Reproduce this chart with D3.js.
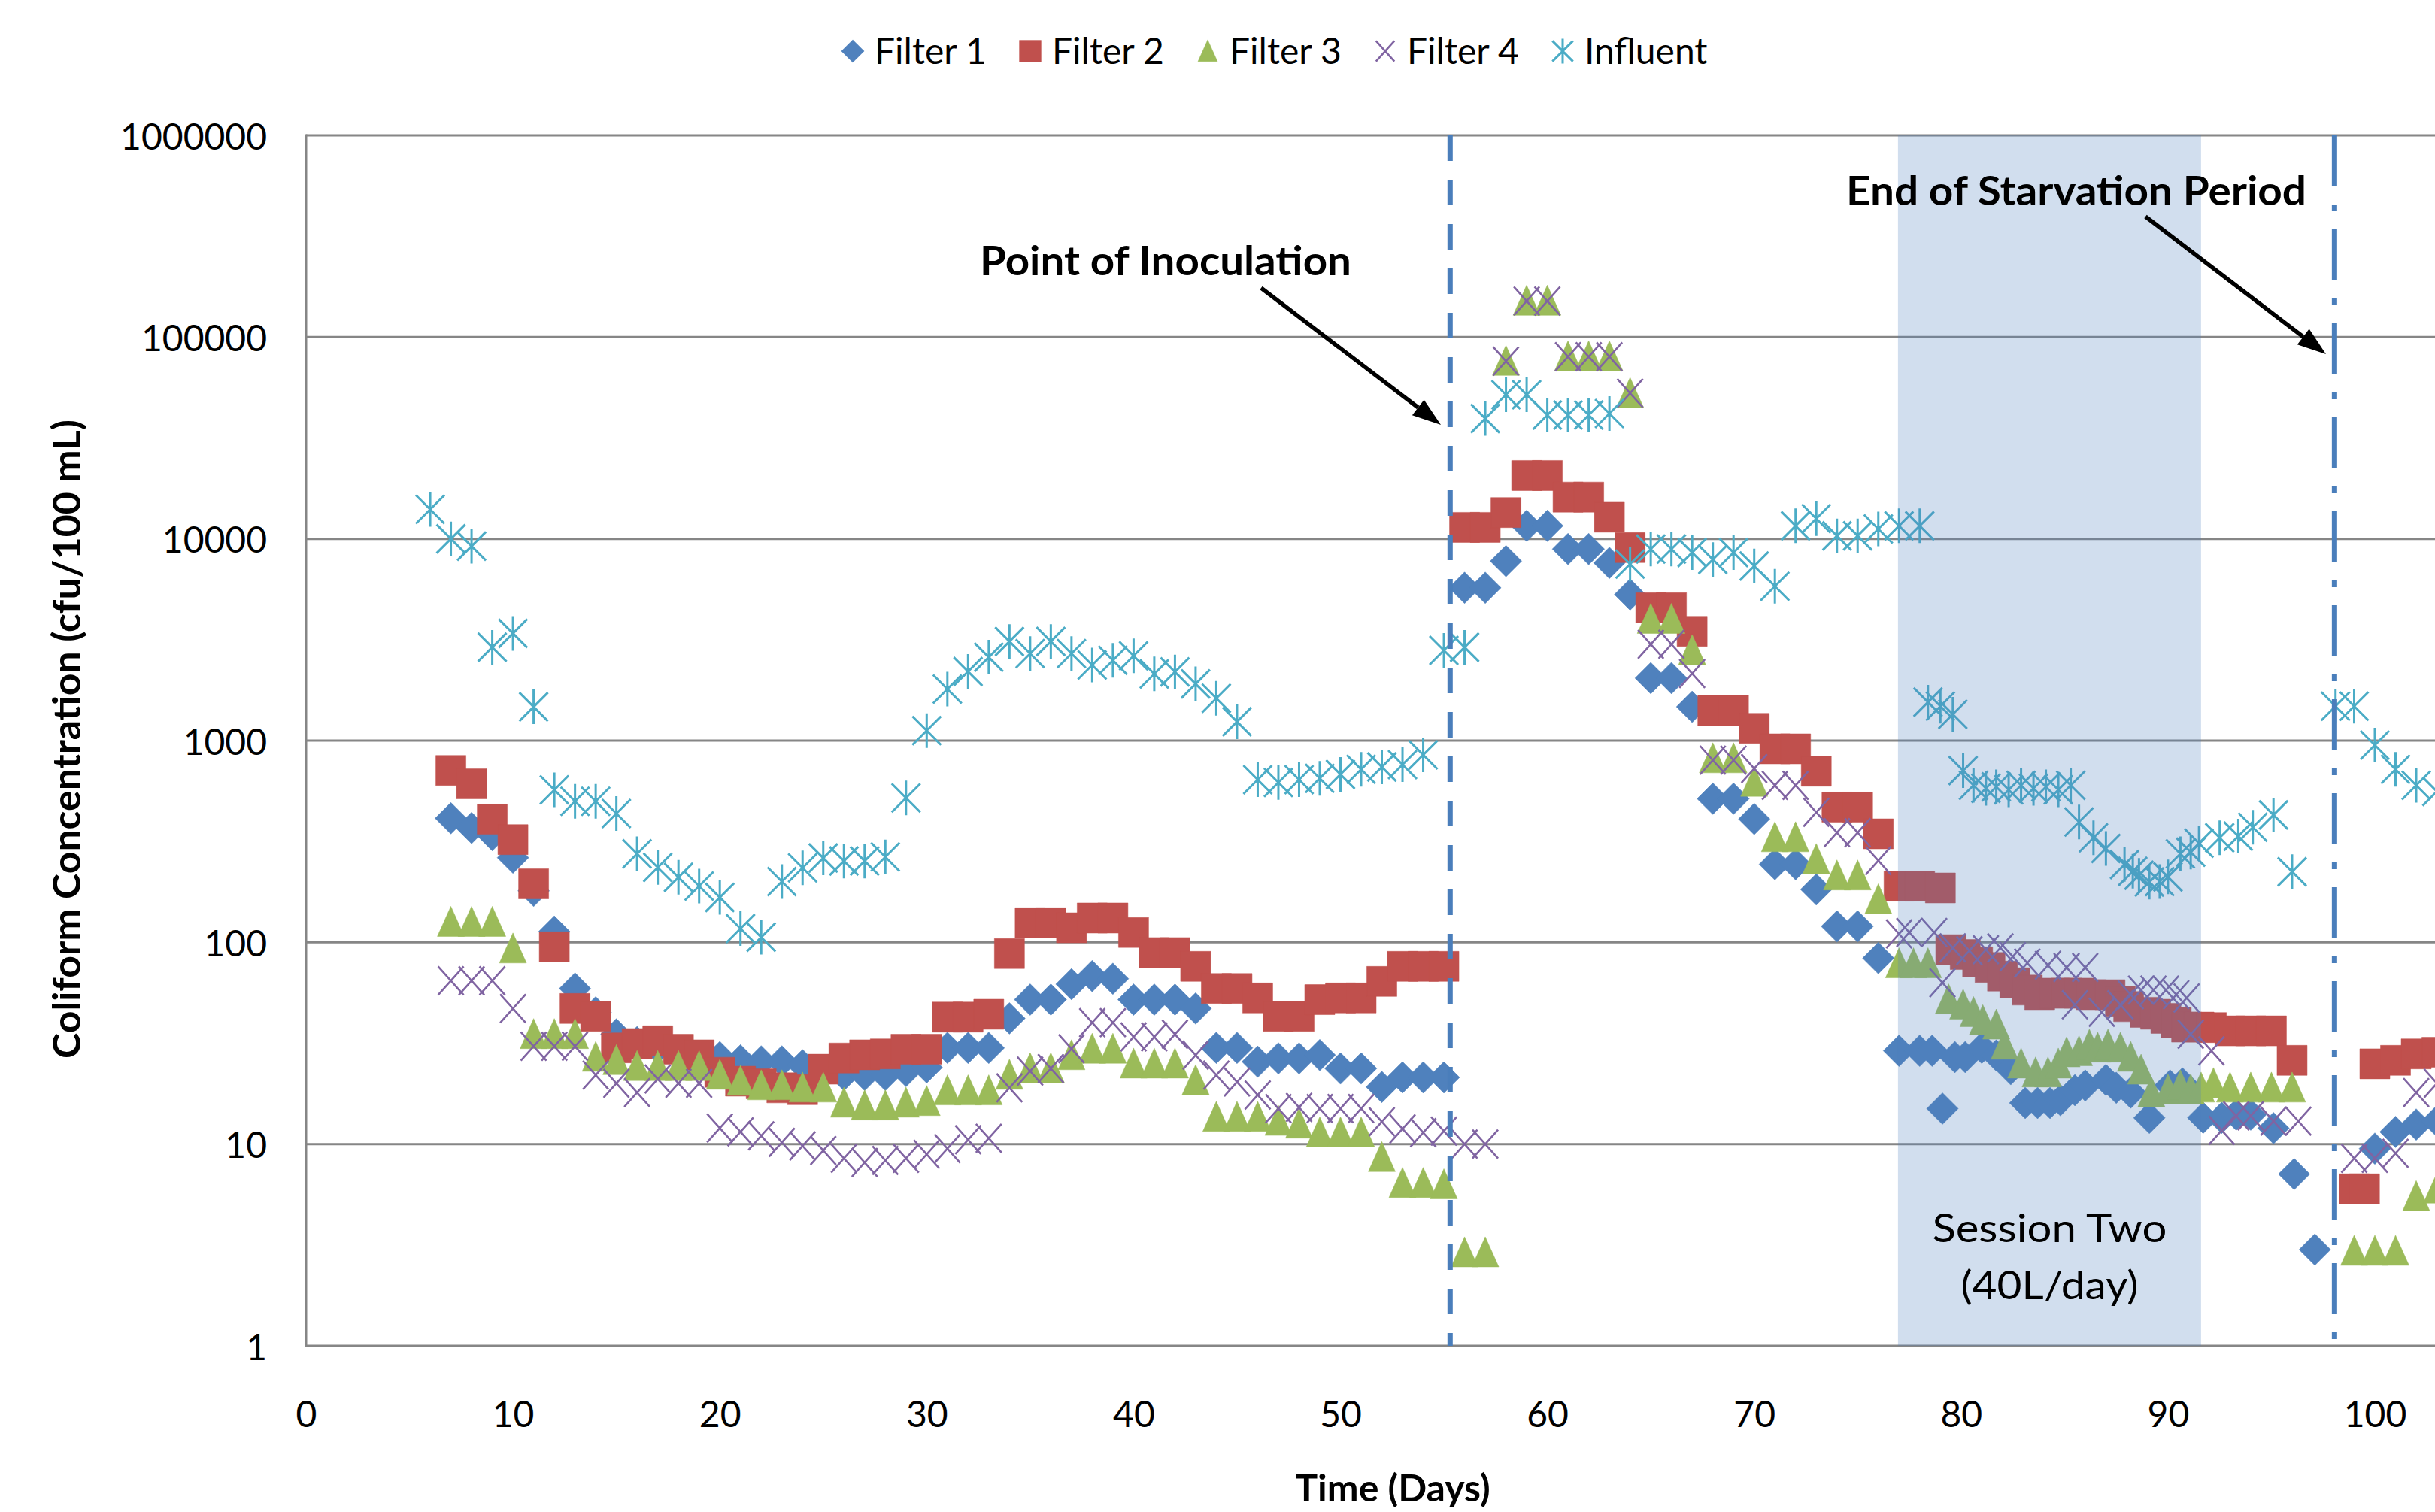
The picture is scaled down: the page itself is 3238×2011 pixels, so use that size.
<!DOCTYPE html>
<html>
<head>
<meta charset="utf-8">
<script src="https://cdn.jsdelivr.net/npm/d3@7"></script>
<style>
  body { margin: 0; background: #fff; overflow: hidden; }
  svg { display: block; font-family: Lato, "Open Sans", sans-serif; }
</style>
</head>
<body>
<div class="chart"></div>
<script>
// series names + excel 2007 default colours
const seriesNames = ['Filter 1', 'Filter 2', 'Filter 3', 'Filter 4', 'Influent'];
const seriesColors = ['#4F81BD', '#C0504D', '#9BBB59', '#8064A2', '#4BACC6'];
const seriesShapes = ['diamond', 'square', 'triangle', 'cross', 'star'];

// [day, cfu/100 mL]
const filter1 = [[7,412],[8,369],[9,340],[10,263],[11,180],[12,113],[13,59],[14,45],[15,35],[16,32],[17,30],[18,28],[19,27],[20,27],[21,26],[22,25.7],[23,25.7],[24,24.6],[25,23],[26,22],[27,22],[28,22],[29,23],[30,24],[31,30],[32,30],[33,30],[34,42],[35,52],[36,52],[37,62],[38,68],[39,66],[40,52],[41,52],[42,52],[43,47],[44,30],[45,30],[46,25.6],[47,26.6],[48,26.6],[49,27.6],[50,23.7],[51,23.7],[52,19.2],[53,21.4],[54,21.4],[55,21.4],[56,5720],[57,5720],[58,7760],[59,11600],[60,11600],[61,8900],[62,8900],[63,7600],[64,5300],[65,2040],[66,2040],[67,1470],[68,515],[69,515],[70,409],[71,244],[72,244],[73,183],[74,120],[75,120],[76,83.5],[77,29],[78,29],[78.6,29],[79.1,15],[79.7,27],[80.2,27],[81,30],[81.7,27.5],[82.4,23.5],[83.1,16],[83.7,16],[84.3,16],[84.8,16.5],[85.5,18.5],[86,19.5],[87,20.8],[87.5,19],[88.2,18],[89.1,13.5],[90.1,19.5],[90.7,20],[91.7,13.5],[92.6,13.5],[93.3,14],[94,14],[95.1,12],[96.1,7.1],[97.1,3.0],[100,9.5],[101,11.5],[102,12.5],[103,13]];

const filter2 = [[7,711],[8,611],[9,408],[10,323],[11,195],[12,95],[13,47],[14,43],[15,30],[16,31.5],[17,32.5],[18,29.5],[19,27.7],[20,22.7],[21,20.5],[22,19.9],[23,19],[24,18.6],[25,23.5],[26,26.7],[27,27.7],[28,28],[29,29.5],[30,29.5],[31,42.6],[32,42.6],[33,44],[34,88],[35,125],[36,125],[37,118],[38,132],[39,132],[40,112],[41,89],[42,89],[43,76],[44,59],[45,59],[46,53],[47,43],[48,43],[49,52],[50,53],[51,53],[52,64],[53,76],[54,76],[55,76],[56,11400],[57,11400],[58,13500],[59,20600],[60,20600],[61,16100],[62,16100],[63,12800],[64,9050],[65,4560],[66,4560],[67,3480],[68,1410],[69,1410],[70,1150],[71,910],[72,910],[73,705],[74,468],[75,468],[76,345],[77,190],[78,190],[79,186],[79.5,92],[80.2,87],[80.8,80],[81.4,75],[82,68],[82.6,63],[83.2,58],[83.8,55],[84.5,56],[85.1,56],[85.7,56],[86.3,55],[87.2,55],[87.7,51],[88.1,48],[88.9,45],[89.4,44],[89.9,42],[90.4,40],[90.9,38],[91.5,38],[92.1,37.8],[93,36.4],[94,36.4],[95,36.4],[96,26],[99,6],[99.5,6],[100,25],[101,26],[102,28],[103,28.5]];

const filter3 = [[7,126],[8,126],[9,126],[10,93],[11,35],[12,35],[13,35],[14,27],[15,26],[16,24.3],[17,24.3],[18,24.3],[19,24.3],[20,22],[21,20.5],[22,19.5],[23,19.5],[24,19],[25,19],[26,16],[27,15.5],[28,15.5],[29,16],[30,16.3],[31,18.4],[32,18.4],[33,18.4],[34,22],[35,23.7],[36,23.7],[37,27.5],[38,29.6],[39,29.6],[40,25],[41,25],[42,25],[43,20.7],[44,13.6],[45,13.6],[46,13.6],[47,13],[48,12.6],[49,11.4],[50,11.4],[51,11.4],[52,8.6],[53,6.4],[54,6.4],[55,6.3],[56,2.9],[57,2.9],[58,76000],[59,151000],[60,151000],[61,80000],[62,80000],[63,80000],[64,52700],[65,4000],[66,4000],[67,2800],[68,815],[69,815],[70,623],[71,331],[72,331],[73,258],[74,214],[75,214],[76,163],[77,78.5],[77.7,78.5],[78.4,78.5],[79.4,52],[80.1,49],[80.6,45],[81.05,41],[81.7,39],[82.1,31],[82.9,25],[83.6,22.6],[84.2,22.6],[84.7,25],[85.1,28.4],[85.7,28.8],[86.2,31],[86.6,30],[87.1,31],[87.7,30],[88.2,27],[88.7,23.3],[89.2,18],[90,18.6],[90.6,19.5],[91.1,18.6],[91.6,19],[92.2,20],[93,19],[94,19],[95,19],[96,19],[99,2.95],[100,2.95],[101,2.95],[102,5.5],[103,6]];

const filter4 = [[7,64.5],[8,64.5],[9,64.5],[10,47],[11,30.5],[12,30.5],[13,30.5],[14,22],[15,20],[16,18],[17,21],[18,20],[19,20],[20,12],[21,11.5],[22,11],[23,10.2],[24,9.8],[25,9.3],[26,8.5],[27,8.1],[28,8.3],[29,8.5],[30,8.9],[31,9.5],[32,10.5],[33,10.7],[34,19],[35,23],[36,23.7],[37,29.7],[38,40],[39,40],[40,34],[41,34],[42,35],[43,27.6],[44,22],[45,20.3],[46,17.5],[47,15],[48,15.2],[49,15],[50,15],[51,15],[52,12.9],[53,11.9],[54,11.4],[55,11.6],[56,10],[57,10],[58,76000],[59,151000],[60,151000],[61,80000],[62,80000],[63,80000],[64,52700],[65,3000],[66,3000],[67,2150],[68,800],[69,800],[70,727],[71,600],[72,600],[73,441],[74,350],[75,350],[76,254],[77,110],[77.5,112],[78.7,112],[79.1,63],[79.6,94],[80.4,91],[81.2,92],[81.9,94],[82.5,85],[83.2,79],[84.2,77],[85.1,75],[85.5,49],[86,75],[86.8,45],[87.7,49],[88.2,55],[88.7,58],[89.3,58],[89.9,58],[90.4,55],[90.9,53],[91.1,35],[92.1,29],[92.6,11.7],[93.3,13.8],[94,13.8],[95.1,13],[96.3,13],[99,8.5],[100,8.5],[101,9],[102,18],[103,20]];

const influent = [[6,14000],[7,10000],[8,9200],[9,2900],[10,3400],[11,1470],[12,570],[13,500],[14,500],[15,435],[16,275],[17,235],[18,210],[19,190],[20,167],[21,117],[22,106],[23,200],[24,234],[25,262],[26,253],[27,253],[28,265],[29,520],[30,1120],[31,1800],[32,2200],[33,2590],[34,3100],[35,2700],[36,3100],[37,2700],[38,2370],[39,2500],[40,2630],[41,2140],[42,2190],[43,1910],[44,1620],[45,1240],[46,640],[47,620],[48,640],[49,650],[50,680],[51,720],[52,740],[53,760],[54,850],[55,2800],[56,2900],[57,39500],[58,51800],[59,51800],[60,41100],[61,41100],[62,41100],[63,41800],[64,7500],[65,8900],[66,8900],[67,8550],[68,7900],[69,8550],[70,7330],[71,5820],[72,11600],[73,12600],[74,10350],[75,10350],[76,11200],[77,11600],[78,11600],[78.4,1550],[79,1480],[79.6,1350],[80.1,710],[80.6,600],[81.2,580],[81.7,590],[82.3,570],[82.9,600],[83.5,580],[84.1,590],[84.7,570],[85.3,600],[85.7,395],[86.4,330],[87,292],[87.9,243],[88.3,225],[88.6,215],[89.1,199],[89.6,200],[90,211],[90.6,275],[91.1,280],[91.5,310],[92.5,330],[93.4,336],[94.1,372],[95.1,428],[96,224],[98.1,1480],[99,1480],[100,950],[101,720],[102,600],[103,560]];

const xTicks = [0, 10, 20, 30, 40, 50, 60, 70, 80, 90, 100];
const yTicks = [1, 10, 100, 1000, 10000, 100000, 1000000];

const inoculationDay = 55.3;
const starvationEndDay = 98.05;
const sessionTwoDays = [76.95, 91.6];

const allSeries = [filter1, filter2, filter3, filter4, influent];

// layout
const width = 3238, height = 2011;
const margin = { top: 180, left: 407 };
const plotH = 1610;
const dayPx = 27.51;

const svg = d3.select('.chart').append('svg')
    .attr('width', width)
    .attr('height', height);

const x = d3.scaleLinear().domain([0, 110]).range([margin.left, margin.left + 110 * dayPx]);
const y = d3.scaleLog().domain([1, 1000000]).range([margin.top + plotH, margin.top]);

// gridlines
svg.append('g').selectAll('line')
    .data(yTicks)
    .enter().append('line')
    .attr('x1', x(0)).attr('x2', width + 10)
    .attr('y1', d => y(d)).attr('y2', d => y(d))
    .attr('stroke', '#868686')
    .attr('stroke-width', 3);

// left border
svg.append('line')
    .attr('x1', x(0)).attr('x2', x(0))
    .attr('y1', y(1000000) - 1.5).attr('y2', y(1) + 1.5)
    .attr('stroke', '#868686')
    .attr('stroke-width', 3);

// axes (labels only)
const yAxis = svg.append('g')
    .attr('transform', `translate(${x(0)},0)`)
    .call(d3.axisLeft(y).tickValues(yTicks).tickFormat(d3.format('d')).tickSize(0).tickPadding(52));
yAxis.select('.domain').remove();
yAxis.selectAll('text').attr('font-size', 48).attr('font-family', 'Lato').attr('fill', '#000').attr('dy', '0.38em');

const xAxis = svg.append('g')
    .attr('transform', `translate(0,${y(1)})`)
    .call(d3.axisBottom(x).tickValues(xTicks).tickSize(0).tickPadding(74));
xAxis.select('.domain').remove();
xAxis.selectAll('text').attr('font-size', 48).attr('font-family', 'Lato').attr('fill', '#000');

// marker shapes
function shapePath(shape, s) {
  if (shape === 'diamond') return `M0,${-21*s}L${21*s},0L0,${21*s}L${-21*s},0Z`;
  if (shape === 'square') return `M${-20*s},${-20*s}h${40*s}v${40*s}h${-40*s}Z`;
  if (shape === 'triangle') return `M0,${-21*s}L${18*s},${19*s}L${-18*s},${19*s}Z`;
  if (shape === 'cross') return `M${-17*s},${-19*s}L${17*s},${19*s}M${17*s},${-19*s}L${-17*s},${19*s}`;
  return `M${-19*s},${-19*s}L${19*s},${19*s}M${19*s},${-19*s}L${-19*s},${19*s}M0,${-23*s}L0,${23*s}`;
}

function drawMarker(sel, i, s) {
  const shape = seriesShapes[i];
  const filled = shape === 'diamond' || shape === 'square' || shape === 'triangle';
  sel.attr('d', shapePath(shape, s))
    .attr('fill', filled ? seriesColors[i] : 'none')
    .attr('stroke', seriesColors[i])
    .attr('stroke-width', filled ? 0.5 : (shape === 'star' ? 3 : 2.6));
}

// data points
allSeries.forEach((data, i) => {
  svg.append('g').selectAll('path')
      .data(data)
      .enter().append('path')
      .attr('transform', d => `translate(${x(d[0])},${y(d[1])})`)
      .call(drawMarker, i, 1);
});

// session two band (translucent, sits over the markers)
svg.append('rect')
    .attr('x', x(sessionTwoDays[0]))
    .attr('width', x(sessionTwoDays[1]) - x(sessionTwoDays[0]))
    .attr('y', y(1000000))
    .attr('height', y(1) - y(1000000))
    .attr('fill', '#4F81BD')
    .attr('opacity', 0.26);

// vertical event lines
svg.append('line')
    .attr('x1', x(inoculationDay)).attr('x2', x(inoculationDay))
    .attr('y1', y(1000000)).attr('y2', y(1))
    .attr('stroke', '#4A7EBB').attr('stroke-width', 7)
    .attr('stroke-dasharray', '34,25');
svg.append('line')
    .attr('x1', x(starvationEndDay)).attr('x2', x(starvationEndDay))
    .attr('y1', y(1000000)).attr('y2', y(1))
    .attr('stroke', '#4A7EBB').attr('stroke-width', 7)
    .attr('stroke-dasharray', '68,24,9,24');

// annotations
function arrow(x1, y1, x2, y2) {
  const ang = Math.atan2(y2 - y1, x2 - x1);
  const len = 38, half = 13;
  const bx = x2 - len * Math.cos(ang), by = y2 - len * Math.sin(ang);
  svg.append('line')
      .attr('x1', x1).attr('y1', y1).attr('x2', bx).attr('y2', by)
      .attr('stroke', '#000').attr('stroke-width', 5.5);
  svg.append('path')
      .attr('d', `M${x2},${y2}L${bx + half * Math.sin(ang)},${by - half * Math.cos(ang)}L${bx - half * Math.sin(ang)},${by + half * Math.cos(ang)}Z`)
      .attr('fill', '#000');
}

// the original text is a little wide, so stretch to the measured widths
function label(tx, ty, str, size, weight, len) {
  return svg.append('text')
      .attr('x', tx).attr('y', ty)
      .attr('text-anchor', 'middle')
      .attr('font-size', size).attr('font-weight', weight)
      .attr('textLength', len).attr('lengthAdjust', 'spacingAndGlyphs')
      .text(str);
}

label(1550, 366, 'Point of Inoculation', 53, 'bold', 494);
arrow(1677, 383, 1916, 565);

label(2761, 273, 'End of Starvation Period', 53, 'bold', 612);
arrow(2853, 288, 3093, 471);

const midSession = x((sessionTwoDays[0] + sessionTwoDays[1]) / 2);
label(midSession, 1652, 'Session Two', 53, 'normal', 312);
label(midSession, 1728, '(40L/day)', 53, 'normal', 236);

// axis titles
svg.append('text')
    .attr('transform', 'translate(107,983) rotate(-90)')
    .attr('text-anchor', 'middle')
    .attr('font-size', 51).attr('font-weight', 'bold')
    .attr('textLength', 850).attr('lengthAdjust', 'spacingAndGlyphs')
    .text('Coliform Concentration  (cfu/100 mL)');
svg.append('text')
    .attr('x', 1852).attr('y', 1997)
    .attr('text-anchor', 'middle')
    .attr('font-size', 50).attr('font-weight', 'bold')
    .text('Time (Days)');

// legend
const legend = svg.append('g').attr('transform', 'translate(1134,68)');
seriesNames.forEach((name, i) => {
  const item = legend.append('g').attr('transform', `translate(${i * 236},0)`);
  item.append('path').call(drawMarker, i, 0.72);
  item.append('text')
      .attr('x', 29).attr('y', 17)
      .attr('font-size', 48)
      .text(name);
});
</script>
</body>
</html>
